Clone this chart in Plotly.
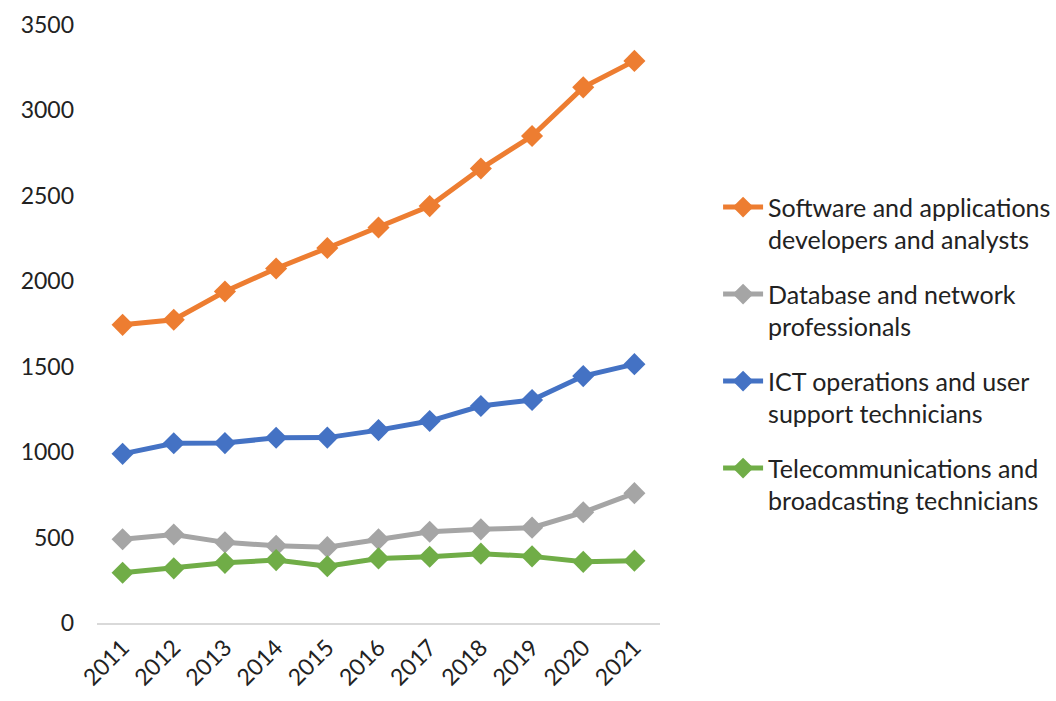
import plotly.graph_objects as go

years = ["2011", "2012", "2013", "2014", "2015", "2016", "2017", "2018", "2019", "2020", "2021"]
software = [1745, 1775, 1940, 2075, 2195, 2315, 2440, 2660, 2850, 3135, 3290]
database = [490, 518, 472, 452, 444, 490, 534, 548, 558, 648, 760]
ict = [990, 1052, 1053, 1084, 1085, 1129, 1182, 1270, 1305, 1445, 1515]
telecom = [294, 320, 352, 368, 332, 378, 388, 406, 390, 358, 365]

names = [
    "Software and applications<br>developers and analysts",
    "Database and network<br>professionals",
    "ICT operations and user<br>support technicians",
    "Telecommunications and<br>broadcasting technicians",
]
series = [software, database, ict, telecom]
colors = ["#ED7D31", "#A5A5A5", "#4472C4", "#70AD47"]

FONT = "Lato"

fig = go.Figure()
for i, (nm, vals, col) in enumerate(zip(names, series, colors)):
    fig.add_trace(go.Scatter(
        x=years, y=vals, name=nm, mode="lines+markers",
        line=dict(color=col, width=5),
        marker=dict(symbol="diamond", size=17, color=col),
        legendgroup=f"g{i}",
    ))

fig.update_layout(
    width=1056, height=701,
    margin=dict(l=97, r=396, t=25, b=78, autoexpand=False),
    paper_bgcolor="white", plot_bgcolor="white",
    font=dict(family=FONT, size=23, color="#222222"),
    showlegend=True,
    legend=dict(
        xref="container", yref="container",
        x=0.680, xanchor="left", y=0.737, yanchor="top",
        font=dict(family=FONT, size=25, color="#222222"),
        valign="top", tracegroupgap=19, itemwidth=40,
        bgcolor="rgba(0,0,0,0)",
    ),
    xaxis=dict(
        type="category", showgrid=False, showline=True, linecolor="#D9D9D9", linewidth=2,
        ticks="", tickangle=-45, tickfont=dict(family=FONT, size=23, color="#222222"),
        range=[-0.5, 10.5], zeroline=False,
    ),
    yaxis=dict(
        range=[0, 3500], dtick=500, showgrid=False, showline=False, zeroline=False,
        ticks="", tickfont=dict(family=FONT, size=23, color="#222222"),
        ticklabelstandoff=22,
    ),
)

fig.write_html("out.html")
